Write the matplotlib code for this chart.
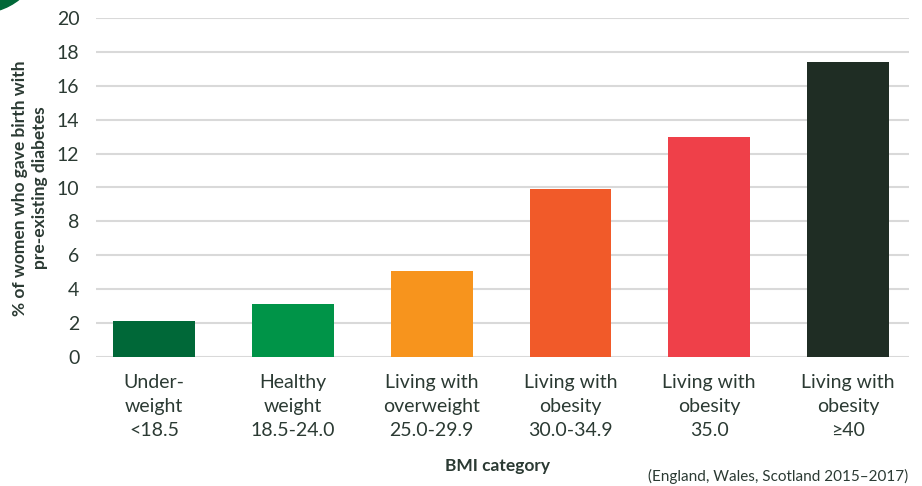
import matplotlib.pyplot as plt
from matplotlib.patches import Ellipse

# BMI categories and share of women with pre-existing diabetes (%)
categories = [
    "Under-\nweight\n<18.5",
    "Healthy\nweight\n18.5-24.0",
    "Living with\noverweight\n25.0-29.9",
    "Living with\nobesity\n30.0-34.9",
    "Living with\nobesity\n35.0",
    "Living with\nobesity\n\u226540",
]
values = [2.1, 3.1, 5.1, 9.9, 13.0, 17.4]
colors = ["#006838", "#009448", "#F7941D", "#F15A29", "#EF4049", "#1F2D24"]

text_color = "#2B3A33"
plt.rcParams["font.family"] = ["Lato", "DejaVu Sans"]


def main():
    fig = plt.figure(figsize=(9.22, 4.86), dpi=100)
    ax = fig.add_axes([96 / 922, 1 - 357 / 486, 813 / 922, 339 / 486])

    x = list(range(len(categories)))
    ax.bar(x, values, width=0.59, color=colors, zorder=3)

    ax.set_xlim(-0.42, 5.44)
    ax.set_ylim(0, 20)
    ax.set_yticks(range(0, 21, 2))
    ax.set_xticks(x)
    ax.set_xticklabels(categories, fontsize=14, color=text_color, linespacing=1.5)
    ax.tick_params(axis="y", length=0, pad=12, labelsize=14, labelcolor=text_color)
    ax.tick_params(axis="x", length=0, pad=12)

    ax.grid(axis="y", color="#D9D9D9", linewidth=1.5, zorder=0)
    for side in ax.spines.values():
        side.set_visible(False)

    fig.text(30 / 922, 1 - 188 / 486, "% of women who gave birth with\npre-existing diabetes",
             rotation=90, ha="center", va="center", fontsize=12.5, fontweight="bold",
             color=text_color, linespacing=1.3)
    fig.text(497 / 922, 1 - 466 / 486, "BMI category", ha="center", va="center",
             fontsize=12.5, fontweight="bold", color=text_color)
    fig.text(908 / 922, 1 - 476 / 486, "(England, Wales, Scotland 2015\u20132017)",
             ha="right", va="center", fontsize=11, color=text_color)

    # green corner badge
    fig.patches.append(Ellipse((-20 / 922, 1 + 50 / 486), 126 / 922, 126 / 486,
                               transform=fig.transFigure, color="#006838", zorder=5))

    fig.savefig("out.png", dpi=100)


if __name__ == "__main__":
    main()
